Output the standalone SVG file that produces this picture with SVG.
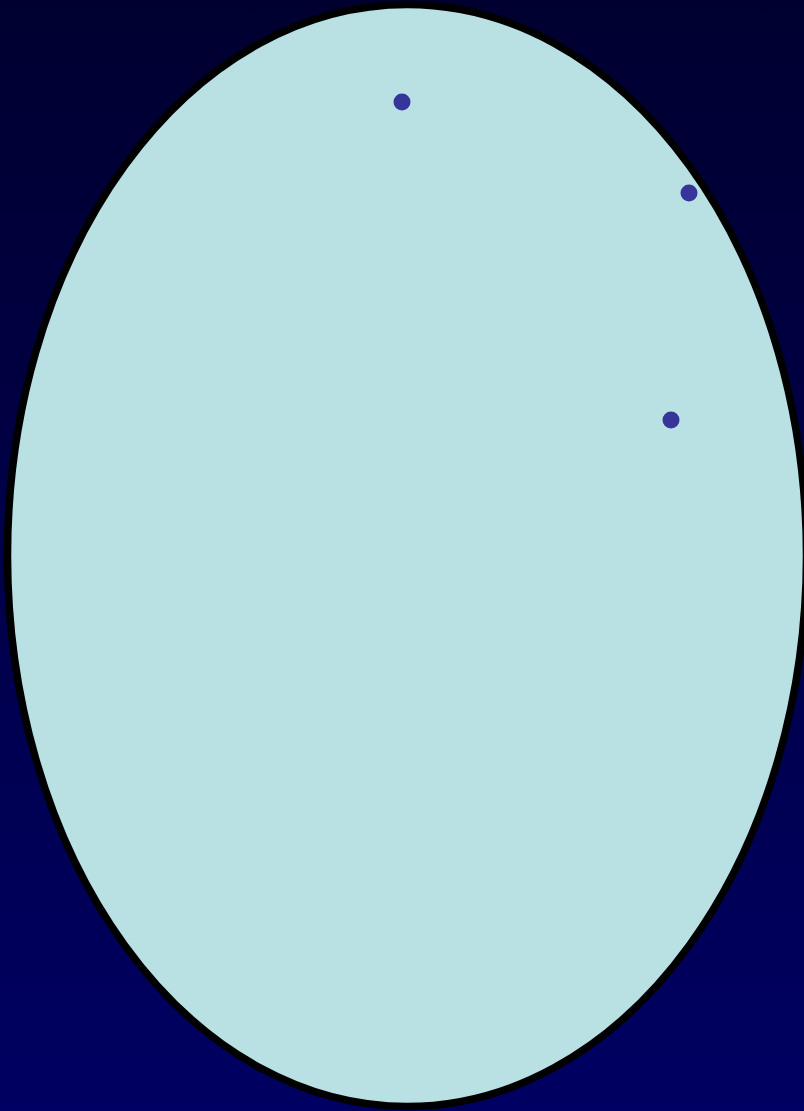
<svg xmlns="http://www.w3.org/2000/svg" width="804" height="1111" viewBox="0 0 804 1111">
<defs>
<linearGradient id="bg" x1="0" y1="0" x2="0" y2="1">
<stop offset="0" stop-color="#000030"/>
<stop offset="1" stop-color="#000062"/>
</linearGradient>
<style>
.dot{fill:#35359a}
</style>
</defs>
<rect width="804" height="1111" fill="url(#bg)"/>
<g id="egg">
<ellipse cx="407" cy="555.5" rx="399.5" ry="551" fill="#b9e0e3" stroke="#000" stroke-width="7.5"/>
</g>
<g id="dots">
<circle class="dot" cx="402" cy="102" r="8.5"/>
<circle class="dot" cx="689" cy="193" r="8.5"/>
<circle class="dot" cx="671" cy="420" r="8.5"/>
</g>
<g id="connectors"/>
</svg>
